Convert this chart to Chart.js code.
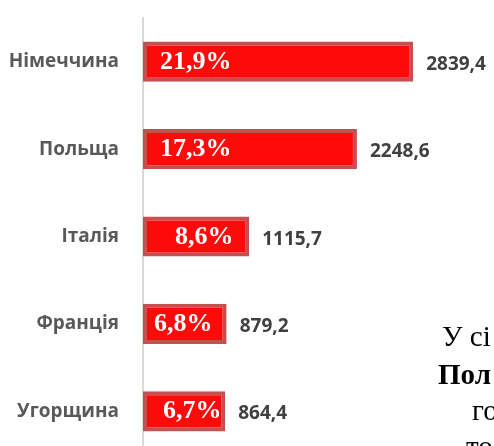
<!DOCTYPE html>
<html>
<head>
<meta charset="utf-8">
<script src="https://cdn.jsdelivr.net/npm/chart.js@4"></script>
<style>
    html, body { margin: 0; padding: 0; background: #fff; overflow: hidden; }
    body { width: 494px; height: 446px; position: relative; }
    #exportChart { position: absolute; left: 0; top: 0; }
    .doc { position: absolute; font-family: "Liberation Serif", "Times New Roman", serif; font-size: 29px; color: #000; white-space: nowrap; line-height: 1; }
</style>
</head>
<body>
<canvas id="exportChart" width="494" height="460"></canvas>
<div class="doc" style="left:442px; top:322px;">У сі</div>
<div class="doc" style="left:438px; top:360px; font-weight:bold;">Пол</div>
<div class="doc" style="left:472px; top:396px;">го</div>
<div class="doc" style="left:466px; top:432px;">то</div>
<script>
// Countries and their export values (shown as bars), with share labels
const countries = ["Німеччина", "Польща", "Італія", "Франція", "Угорщина"];
const exportValues = [2839.4, 2248.6, 1115.7, 879.2, 864.4];
const shareLabels = ["21,9%", "17,3%", "8,6%", "6,8%", "6,7%"];
const valueLabels = ["2839,4", "2248,6", "1115,7", "879,2", "864,4"];

// left offset of the % label inside each bar (as in the source picture)
const shareOffset = [17, 17, 32, 11, 20];

// Plugin to draw share labels inside bars and values after bars
const barLabels = {
    id: "barLabels",
    afterDatasetsDraw(chart) {
        const ctx = chart.ctx;
        const meta = chart.getDatasetMeta(0);
        ctx.save();
        meta.data.forEach((bar, i) => {
            // share inside the bar
            ctx.font = "bold 26px 'Liberation Serif', 'Times New Roman', serif";
            ctx.fillStyle = "#ffffff";
            ctx.textAlign = "left";
            ctx.textBaseline = "alphabetic";
            ctx.fillText(shareLabels[i], bar.base + shareOffset[i], bar.y + 7);

            // value after the bar
            ctx.font = "bold 19px 'Open Sans', sans-serif";
            ctx.fillStyle = "#404040";
            ctx.fillText(valueLabels[i], bar.x + 13, bar.y + 8);
        });
        ctx.restore();
    },
};

const ctx = document.getElementById("exportChart").getContext("2d");
const exportChart = new Chart(ctx, {
    type: "bar",
    data: {
        labels: countries,
        datasets: [
            {
                data: exportValues,
                backgroundColor: "#ff0a0a",
                borderColor: "#c4504f",
                borderWidth: 4,
                borderSkipped: false,
                categoryPercentage: 0.46,
                barPercentage: 1,
            },
        ],
    },
    options: {
        indexAxis: "y",
        responsive: false,
        animation: false,
        layout: {
            padding: { top: 18, right: 18, bottom: 5, left: 0 },
        },
        scales: {
            x: {
                display: false,
                min: 0,
                max: 3500,
            },
            y: {
                afterFit: (scale) => {
                    scale.width = 143;
                    // no extra top/bottom padding from the tick labels
                    scale.paddingTop = 0;
                    scale.paddingBottom = 0;
                },
                grid: { display: false, drawTicks: false },
                border: { display: true, color: "#d9d9d9", width: 2 },
                ticks: {
                    padding: 24,
                    color: "#595959",
                    font: { family: "'Open Sans', sans-serif", size: 19, weight: "bold" },
                },
            },
        },
        plugins: {
            legend: { display: false },
            tooltip: { enabled: false },
        },
    },
    plugins: [barLabels],
});
</script>
</body>
</html>
